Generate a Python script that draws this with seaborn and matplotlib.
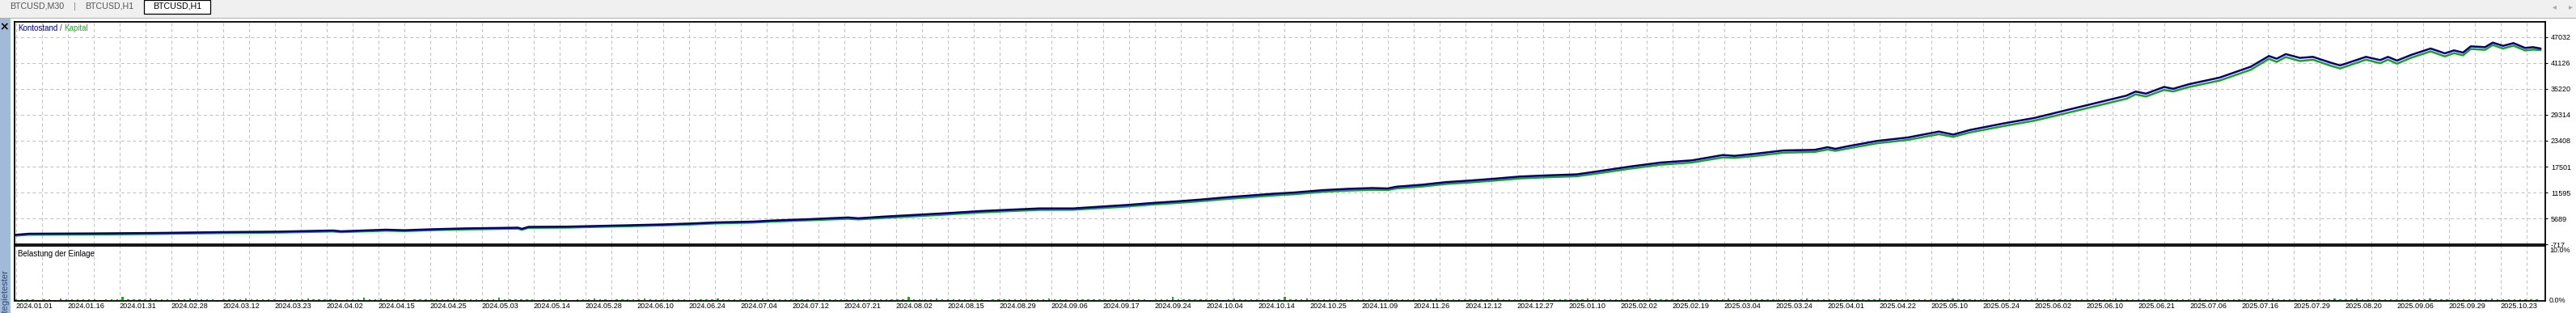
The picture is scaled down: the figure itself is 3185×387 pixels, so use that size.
import numpy as np
import pandas as pd
import matplotlib
matplotlib.use("Agg")
import matplotlib.pyplot as plt
from matplotlib.patches import Rectangle
import seaborn as sns

# ---------------- data ----------------
deals = [0, 10, 60, 112, 158, 203, 245, 251, 286, 300, 323, 348, 388, 391, 396, 426, 446, 474,
         500, 524, 541, 569, 586, 613, 643, 651, 670, 688, 719, 745, 764, 791, 817, 840, 859,
         878, 897, 916, 935, 953, 973, 988, 1010, 1029, 1048, 1060, 1067, 1086, 1105, 1124,
         1143, 1162, 1181, 1206, 1223, 1247, 1271, 1295, 1319, 1328, 1343, 1366, 1390, 1400,
         1406, 1415, 1438, 1462, 1486, 1497, 1510, 1536, 1560, 1583, 1607, 1631, 1638, 1646,
         1660, 1667, 1679, 1703, 1727, 1741, 1747, 1754, 1765, 1775, 1789, 1796, 1801, 1816,
         1827, 1833, 1840, 1851, 1866, 1877, 1884, 1891, 1897, 1908, 1914, 1922, 1930, 1939,
         1945, 1951]

balance = [1942, 2182, 2250, 2367, 2551, 2662, 2921, 2736, 3105, 2980, 3216, 3400, 3567, 3290,
           3751, 3800, 3936, 4120, 4305, 4545, 4766, 4951, 5209, 5504, 5892, 5707, 6077, 6372,
           6870, 7350, 7608, 7959, 7959, 8402, 8753, 9196, 9565, 9989, 10488, 10894, 11337,
           11595, 12130, 12425, 12610, 12518, 12924, 13348, 13957, 14326, 14751, 15231, 15471,
           15729, 16449, 17501, 18424, 18922, 20140, 19955, 20399, 21192, 21321, 21930, 21561,
           22115, 23351, 24145, 25492, 24809, 25861, 27360, 28611, 30272, 31989, 33705, 34628,
           34148, 35680, 35256, 36289, 37821, 40300, 42730, 42121, 43173, 42306, 42546, 41198,
           40589, 41069, 42546, 41807, 42546, 41697, 43000, 44447, 43339, 44022, 43524, 44945,
           44760, 45794, 45056, 45683, 44576, 44760, 44447]

equity = [1750, 1950, 2000, 2150, 2330, 2450, 2700, 2550, 2880, 2780, 3000, 3180, 3350, 3100,
          3520, 3580, 3720, 3900, 4080, 4320, 4540, 4720, 4980, 5250, 5600, 5450, 5780, 6060,
          6560, 7020, 7300, 7620, 7650, 8060, 8400, 8850, 9200, 9620, 10100, 10500, 10950,
          11200, 11750, 12030, 12200, 12150, 12520, 12940, 13540, 13900, 14320, 14800, 15050,
          15300, 15980, 17020, 17940, 18430, 19600, 19500, 19900, 20680, 20850, 21400, 21100,
          21600, 22820, 23600, 24900, 24300, 25300, 26750, 28000, 29600, 31300, 33000, 34000,
          33500, 35000, 34650, 35650, 37150, 39600, 42100, 41400, 42500, 41600, 41900, 40500,
          39900, 40400, 41900, 41100, 41900, 41000, 42350, 43800, 42650, 43400, 42900, 44350,
          44150, 45250, 44450, 45100, 44000, 44200, 44100]

# deposit load, tenths of a percent per bar
load_str = ("33332332433333323338333343332334333323333433333233"
            "33433333233363343333033333334333333363333332333330"
            "33343323333343333333233334333333343333333332333333"
            "33333333373333433333333233333333334333233333333333"
            "33233373333333323433333333733343333333333333333333"
            "33343333333333433333323333333343333333333433333333"
            "33333433333333333334333333333333433333333333343333"
            "33333333334333333333333343333333333333343333333333"
            "33433333333335333433333333333353333333333433333333")
load = [int(c) / 10 for c in load_str]

y_ticks = [5689, 11595, 17501, 23408, 29314, 35220, 41126, 47032]
date_labels = ["2024.01.01", "2024.01.16", "2024.01.31", "2024.02.28", "2024.03.12", "2024.03.23",
               "2024.04.02", "2024.04.15", "2024.04.25", "2024.05.03", "2024.05.14", "2024.05.28",
               "2024.06.10", "2024.06.24", "2024.07.04", "2024.07.12", "2024.07.21", "2024.08.02",
               "2024.08.15", "2024.08.29", "2024.09.06", "2024.09.17", "2024.09.24", "2024.10.04",
               "2024.10.14", "2024.10.25", "2024.11.09", "2024.11.26", "2024.12.12", "2024.12.27",
               "2025.01.10", "2025.02.02", "2025.02.19", "2025.03.04", "2025.03.24", "2025.04.01",
               "2025.04.22", "2025.05.10", "2025.05.24", "2025.06.02", "2025.06.10", "2025.06.21",
               "2025.07.06", "2025.07.16", "2025.07.29", "2025.08.20", "2025.09.06", "2025.09.29",
               "2025.10.23"]

# ---------------- figure ----------------
sns.set_theme(style="white")
plt.rcParams["font.family"] = ["Liberation Sans", "DejaVu Sans"]

W, H = 3185, 387
fig = plt.figure(figsize=(W / 100, H / 100), dpi=100, facecolor="white")


def fx(x):
    return x / W


def fy(y):
    return 1 - y / H


# tab bar
fig.patches.append(Rectangle((0, fy(22)), 1, 22 / H, transform=fig.transFigure,
                             facecolor="#f0f0f0", edgecolor="none", zorder=0))
fig.lines.append(plt.Line2D([0, 1], [fy(22), fy(22)], transform=fig.transFigure,
                            color="#b4b4b4", lw=0.8))
fig.patches.append(Rectangle((fx(178), fy(17)), (260 - 178) / W, 17 / H, transform=fig.transFigure,
                             facecolor="white", edgecolor="black", lw=0.9, zorder=1))
tab_font = dict(fontsize=7.7, va="center")
fig.text(fx(12), fy(8), "BTCUSD,M30", color="#555555", ha="left", **tab_font)
fig.text(fx(92), fy(8), "|", color="#888888", ha="center", **tab_font)
fig.text(fx(105), fy(8), "BTCUSD,H1", color="#555555", ha="left", **tab_font)
fig.text(fx(219), fy(8), "BTCUSD,H1", color="black", ha="center", **tab_font)
fig.text(fx(3158), fy(8), "\u25C2", color="#a8a8a8", ha="center", fontsize=7,
         va="center", family=["DejaVu Sans"])
fig.text(fx(3178), fy(8), "\u25B8", color="#a8a8a8", ha="center", fontsize=7,
         va="center", family=["DejaVu Sans"])

# left sidebar
fig.patches.append(Rectangle((0, 0), fx(13), fy(22), transform=fig.transFigure,
                             facecolor="#a3b9d8", edgecolor="none", zorder=0))
fig.text(fx(5.5), fy(33), "\u00D7", color="black", ha="center", va="center", fontsize=10,
         family=["DejaVu Sans"], fontweight="bold")
fig.text(fx(6.5), fy(333), "Strategietester", rotation=90, color="#2b4a78",
         ha="center", va="top", fontsize=8)

# axes
left, right = 17.6, 3147
ax = fig.add_axes([fx(left), fy(302), fx(right) - fx(left), (302 - 27) / H])
ax2 = fig.add_axes([fx(left), fy(372), fx(right) - fx(left), (372 - 304) / H])

xmin = (left - 19.7) * 0.625
xmax = (right - 19.7) * 0.625
ymin, ymax = -217, 50538

df = pd.DataFrame({"deal": deals, "Kontostand": balance, "Kapital": equity})
sns.lineplot(data=df, x="deal", y="Kapital", ax=ax, color="#1f9e2a", lw=1.8, sort=False)
sns.lineplot(data=df, x="deal", y="Kontostand", ax=ax, color="#00007a", lw=1.8, sort=False)

ax.set_xlim(xmin, xmax)
ax.set_ylim(ymin, ymax)

grid_kw = dict(color="#c4c4c4", lw=0.75, linestyle=(0, (4, 3)))
for a in (ax, ax2):
    a.set_xlim(xmin, xmax)
    a.set_xticks(np.arange(0, 1941, 40))
    a.set_xticks(np.arange(20, 1941, 40), minor=True)
    a.grid(True, which="both", axis="x", **grid_kw)
    a.set_facecolor("white")
    a.set_xlabel("")
    a.set_ylabel("")
    for s in a.spines.values():
        s.set_color("black")
        s.set_linewidth(1.3)
        s.set_visible(True)
    a.set_axisbelow(True)

ax.grid(True, which="major", axis="y", **grid_kw)
ax.set_yticks([ymin] + y_ticks)
ax.set_yticklabels(["-717"] + [str(v) for v in y_ticks])
ax.yaxis.tick_right()
ax.tick_params(axis="y", which="major", direction="out", length=2.5, width=0.8,
               color="black", pad=2.5, labelsize=6.5, labelcolor="black", right=True, left=False)
ax.tick_params(axis="x", which="both", length=0, labelbottom=False)

# deposit load bars
load_x = np.linspace(0, 1948, len(load))
ax2.bar(load_x, load, width=1.4, color="#12b012", linewidth=0)
ax2.set_ylim(0, 10)
ax2.set_yticks([])
ax2.set_xticklabels(date_labels)
ax2.tick_params(axis="x", which="both", length=0, pad=1.5, labelsize=6.6, labelcolor="black")
for t in ax2.get_xticklabels():
    t.set_horizontalalignment("left")

# texts
fig.text(fx(22), fy(35), "Kontostand", color="#00007a", fontsize=7, ha="left", va="center")
fig.text(fx(73.5), fy(35), "/", color="#333333", fontsize=7, ha="left", va="center")
fig.text(fx(79), fy(35), "Kapital", color="#1fae2a", fontsize=7, ha="left", va="center")
fig.text(fx(22), fy(314), "Belastung der Einlage", color="black", fontsize=7, ha="left", va="center")
fig.text(fx(3152), fy(310), "10.0%", color="black", fontsize=6.5, ha="left", va="center")
fig.text(fx(3152), fy(371), "0.0%", color="black", fontsize=6.5, ha="left", va="center")

fig.savefig("out.png", dpi=100, facecolor="white")
